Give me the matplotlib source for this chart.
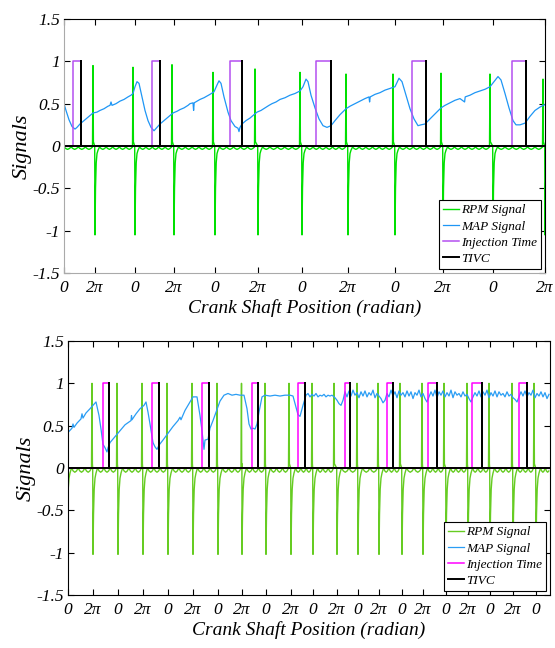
import numpy as np
import matplotlib
matplotlib.use('Agg')
import matplotlib.pyplot as plt

plt.rcParams['font.family'] = ['Liberation Serif', 'DejaVu Serif']
plt.rcParams['font.style'] = 'italic'

# ---------------- top run (engine slowing down) ----------------
top_xmax = 481
top_ticks = [0, 31, 71, 110, 151, 194, 238, 284, 331, 379, 429, 481]
top_rpm_pos = [29, 69, 108, 149, 191, 236, 282, 329, 377, 426, 479]
top_rpm_peak = [0.95, 0.93, 0.96, 0.87, 0.91, 0.87, 0.85, 0.85, 0.86, 0.85, 0.79]
top_rpm_neg = [31, 71, 110, 151, 194, 238, 284, 331, 379, 429, 481]
top_rpm_recover = [-1.05, -0.50, -0.20, -0.09, -0.05, -0.012]
top_rpm_ripple = [-0.012, -0.03, -0.04, -0.03]
top_inj_on = [8.7, 88.0, 166.0, 251.7, 347.7, 448.0]
top_inj_off = [17.0, 96.0, 178.0, 267.0, 361.7, 462.0]
top_tivc = [17.0, 96.0, 178.0, 267.0, 361.7, 462.0]
top_map_x = [0, 2, 5, 8, 11, 13, 16, 21, 26, 29,
             33, 36, 40, 44, 46, 47, 48, 52, 56, 60,
             64, 67, 69, 71, 73, 75, 78, 81, 84, 87,
             90, 93, 96, 101, 105, 109, 113, 116, 120, 124,
             126, 129, 129.6, 130.2, 133, 136, 140, 143, 146, 150,
             153, 155, 157, 160, 164, 167,
             171, 174, 175, 176, 178, 182, 186, 190, 193, 197,
             201, 205, 208, 212, 216, 221, 226, 231, 236, 239,
             242, 244, 247, 251, 255, 259,
             263, 267, 271, 276, 282, 286, 291, 296, 301, 305,
             305.6, 306.2, 311, 316, 321, 326, 331, 335, 338, 342,
             346, 350,
             354, 357, 361, 366, 372, 377, 381, 386, 391, 396,
             400.6, 401.2, 406, 411, 416, 421, 426, 430, 434, 437,
             441, 445, 449, 452, 456, 461, 466, 471, 476, 481]
top_map_y = [0.50, 0.42, 0.31, 0.23, 0.20, 0.22, 0.26, 0.31, 0.36, 0.39,
             0.40, 0.42, 0.44, 0.47, 0.48, 0.52, 0.48, 0.50, 0.53, 0.55,
             0.58, 0.60, 0.62, 0.70, 0.76, 0.74, 0.58, 0.42, 0.30, 0.22,
             0.18, 0.22, 0.26, 0.31, 0.35, 0.39, 0.41, 0.43, 0.45, 0.48,
             0.50, 0.51, 0.42, 0.51, 0.53, 0.55, 0.57, 0.59, 0.61, 0.64,
             0.72, 0.77, 0.74, 0.58, 0.40, 0.30,
             0.23, 0.21, 0.17, 0.22, 0.26, 0.30, 0.33, 0.37, 0.40, 0.42,
             0.45, 0.48, 0.50, 0.52, 0.55, 0.57, 0.60, 0.62, 0.65, 0.70,
             0.79, 0.76, 0.60, 0.45, 0.32, 0.24,
             0.22, 0.24, 0.30, 0.37, 0.44, 0.47, 0.50, 0.53, 0.56, 0.58,
             0.52, 0.58, 0.61, 0.63, 0.66, 0.68, 0.70, 0.80, 0.76, 0.60,
             0.44, 0.32,
             0.24, 0.25, 0.26, 0.32, 0.39, 0.45, 0.48, 0.51, 0.54, 0.56,
             0.52, 0.58, 0.60, 0.63, 0.65, 0.67, 0.70, 0.76, 0.82, 0.78,
             0.62, 0.45, 0.30, 0.25, 0.25, 0.27, 0.35, 0.42, 0.46, 0.49]

# ---------------- bottom run (engine speeding up) ----------------
bot_xmax = 482
bot_ticks = [0, 25, 50, 75, 100, 125, 150, 174, 198, 223, 245,
             269, 290, 311, 334, 355, 378, 400, 422, 445, 468]
bot_rpm_pos = [24, 49, 74, 99, 124, 149, 173.5, 197, 221, 244,
               266, 289, 310, 332, 354, 376, 399, 421, 444, 466]
bot_rpm_peak = [1.0] * 20
bot_rpm_neg = [-1, 25, 50, 75, 100, 125, 150, 174, 198, 223, 245,
               269, 290, 311, 334, 355, 378, 400, 422, 445, 468]
bot_rpm_recover = [-1.02, -0.55, -0.25, -0.12, -0.06, 0.0]
bot_rpm_ripple = [0.0, -0.035, -0.05, -0.035]
bot_inj_on = [34.7, 84.3, 134.3, 183.7, 230.3, 277.3, 318.7, 360.0, 404.0, 451.3]
bot_inj_off = [41.3, 91.3, 141.3, 189.7, 237.3, 282.3, 325.3, 368.7, 414.0, 459.0]
bot_tivc = [41.3, 91.3, 141.3, 189.7, 237.3, 282.3, 325.3, 368.7, 414.0, 459.0]
bot_map_x = [0, 4, 5, 6, 9, 13, 14, 15, 18, 22,
             25, 28, 31, 33, 35, 37, 39, 40, 42, 47,
             52, 57, 63, 63.5, 64, 68, 72, 76, 78, 80,
             82, 85, 87, 89, 91, 95, 100, 105, 110, 112,
             113, 117, 122, 125, 129, 132, 134, 135, 136, 137,
             140, 142, 145, 148, 152, 156, 160, 164, 168, 172,
             176, 179, 181, 183, 185, 187, 189, 191, 194, 197,
             202, 207, 212, 217, 222, 225, 228, 230, 232, 235,
             238, 240, 242, 244, 246, 248, 250, 252, 254, 256,
             258, 260, 262, 264, 267, 269, 271, 273, 275]
bot_map_y = [0.42, 0.47, 0.52, 0.48, 0.53, 0.58, 0.64, 0.59, 0.65, 0.70,
             0.74, 0.78, 0.62, 0.46, 0.28, 0.24, 0.19, 0.24, 0.30, 0.37,
             0.44, 0.51, 0.56, 0.62, 0.57, 0.64, 0.70, 0.74, 0.78, 0.66,
             0.52, 0.30, 0.25, 0.22, 0.27, 0.33, 0.41, 0.49, 0.56, 0.60,
             0.57, 0.68, 0.78, 0.84, 0.84, 0.62, 0.44, 0.33, 0.22, 0.33,
             0.34, 0.47, 0.56, 0.66, 0.79, 0.86, 0.88, 0.86, 0.87, 0.86,
             0.86, 0.70, 0.52, 0.46, 0.47, 0.46, 0.52, 0.66, 0.84, 0.86,
             0.85, 0.86, 0.85, 0.86, 0.86, 0.85, 0.72, 0.63, 0.61, 0.74,
             0.86, 0.88, 0.84, 0.87, 0.85, 0.88, 0.84, 0.86, 0.85, 0.87,
             0.84, 0.86, 0.85, 0.86, 0.83, 0.80, 0.76, 0.74, 0.80]
# unsettled MAP after the engine picks up, sampled every 2 samples from 277
bot_map_tail_start = 277
bot_map_tail = [0.90, 0.84, 0.91, 0.85, 0.92, 0.86, 0.89, 0.83, 0.90, 0.85,
                0.91, 0.84, 0.89, 0.86, 0.92, 0.83, 0.88, 0.85, 0.82, 0.77,
                0.80, 0.88, 0.84, 0.92, 0.85, 0.90, 0.83, 0.91, 0.86, 0.89,
                0.84, 0.91, 0.85, 0.90, 0.82, 0.89, 0.86, 0.92, 0.84, 0.88,
                0.82, 0.78, 0.84, 0.90, 0.85, 0.92, 0.83, 0.90, 0.86, 0.91,
                0.84, 0.89, 0.85, 0.92, 0.83, 0.90, 0.86, 0.88, 0.84, 0.90,
                0.85, 0.87, 0.82, 0.78, 0.84, 0.89, 0.85, 0.91, 0.84, 0.90,
                0.86, 0.92, 0.83, 0.89, 0.85, 0.91, 0.84, 0.90, 0.86, 0.88,
                0.84, 0.90, 0.85, 0.87, 0.83, 0.81, 0.78, 0.84, 0.90, 0.85,
                0.91, 0.84, 0.89, 0.86, 0.92, 0.83, 0.88, 0.85, 0.90, 0.84,
                0.89, 0.82, 0.87]

REC_DX = [0.0, 0.5, 1.2, 2.0, 3.0, 4.5]


def rpm_trace(x_max, pos_at, pos_h, neg_at, recover, ripple, scallop_w):
    pts = []
    for p, h in zip(pos_at, pos_h):
        pts += [(p - 0.5, ripple[0]), (p, h), (p + 0.4, 0.05)]
    for t in neg_at:
        pts += [(t - 0.3, 0.0)] + [(t + dx, v) for dx, v in zip(REC_DX, recover)]
    starts = ([0.0] if neg_at[0] > pos_at[0] else []) + [t + REC_DX[-1] for t in neg_at]
    ends = [p - 0.5 for p in pos_at] + [x_max]
    for a, b in zip(starts, ends):
        if b - a < 1:
            continue
        n = max(1, int(round((b - a) / scallop_w)))
        w = (b - a) / n
        for j in range(n):
            for k, v in enumerate(ripple):
                pts.append((a + (j + k / len(ripple)) * w, v))
    pts.sort()
    x, y = zip(*pts)
    return np.array(x), np.array(y)


def pulse_trace(x_max, on, off):
    x, y = [0], [0]
    for a, b in zip(on, off):
        x += [a, a, b, b]
        y += [0, 1, 1, 0]
    return x + [x_max], y + [0]


def tivc_trace(x_max, at):
    x, y = [0], [0]
    for a in at:
        x += [a, a, a]
        y += [0, 1, 0]
    return x + [x_max], y + [0]


def draw_panel(ax, x_max, ticks, rpm, map_xy, inj, tivc, colors, scallop_w):
    rx, ry = rpm_trace(x_max, *rpm, scallop_w)
    ax.plot(rx, ry, color=colors[0], lw=1.0, label='RPM Signal')
    ax.plot(*map_xy, color=colors[1], lw=0.9, label='MAP Signal')
    ax.plot(*pulse_trace(x_max, *inj), color=colors[2], lw=1.1, label='Injection Time')
    ax.plot(*tivc_trace(x_max, tivc), color='black', lw=1.4, label='TIVC')

    ax.set_xlim(0, x_max)
    ax.set_ylim(-1.5, 1.5)
    ax.set_xticks(ticks)
    ax.set_xticklabels(['0' if i % 2 == 0 else '2π' for i in range(len(ticks))])
    yt = [1.5, 1, 0.5, 0, -0.5, -1, -1.5]
    ax.set_yticks(yt)
    ax.set_yticklabels(['1.5', '1', '0.5', '0', '-0.5', '-1', '-1.5'])
    ax.tick_params(direction='in', top=True, right=True, length=4, width=0.8,
                   labelsize=12.5)
    ax.tick_params(axis='x', pad=5)
    ax.tick_params(axis='y', pad=3)
    ax.set_xlabel('Crank Shaft Position (radian)', fontsize=14, labelpad=2)
    ax.set_ylabel('Signals', fontsize=16, labelpad=0)
    for s in ax.spines.values():
        s.set_linewidth(0.8)
    leg = ax.legend(loc='lower right', fontsize=9.5, fancybox=False,
                    edgecolor='black', framealpha=1, borderpad=0.3,
                    labelspacing=0.3, handlelength=1.2, handletextpad=0.15,
                    borderaxespad=0.3)
    leg.get_frame().set_linewidth(0.8)


fig = plt.figure(figsize=(5.55, 6.48), dpi=100)
ax1 = fig.add_axes([64 / 555, 1 - 273 / 648, 481 / 555, 254 / 648])
ax2 = fig.add_axes([68 / 555, 1 - 595 / 648, 482 / 555, 254 / 648])

draw_panel(ax1, top_xmax, top_ticks,
           (top_rpm_pos, top_rpm_peak, top_rpm_neg, top_rpm_recover, top_rpm_ripple),
           (top_map_x, top_map_y), (top_inj_on, top_inj_off), top_tivc,
           ('#00e000', '#1e96f5', '#b44ff0'), 7.0)
ax1.spines['left'].set_color('#aaaaaa')
ax1.spines['bottom'].set_color('#aaaaaa')

bot_tail_x = bot_map_tail_start + 2 * np.arange(len(bot_map_tail))
bot_mx = np.concatenate([bot_map_x, bot_tail_x])
bot_my = np.concatenate([bot_map_y, bot_map_tail])
draw_panel(ax2, bot_xmax, bot_ticks,
           (bot_rpm_pos, bot_rpm_peak, bot_rpm_neg, bot_rpm_recover, bot_rpm_ripple),
           (bot_mx, bot_my), (bot_inj_on, bot_inj_off), bot_tivc,
           ('#66cc22', '#2a9df4', '#ff00ff'), 6.0)

fig.savefig('out.png', dpi=100)
